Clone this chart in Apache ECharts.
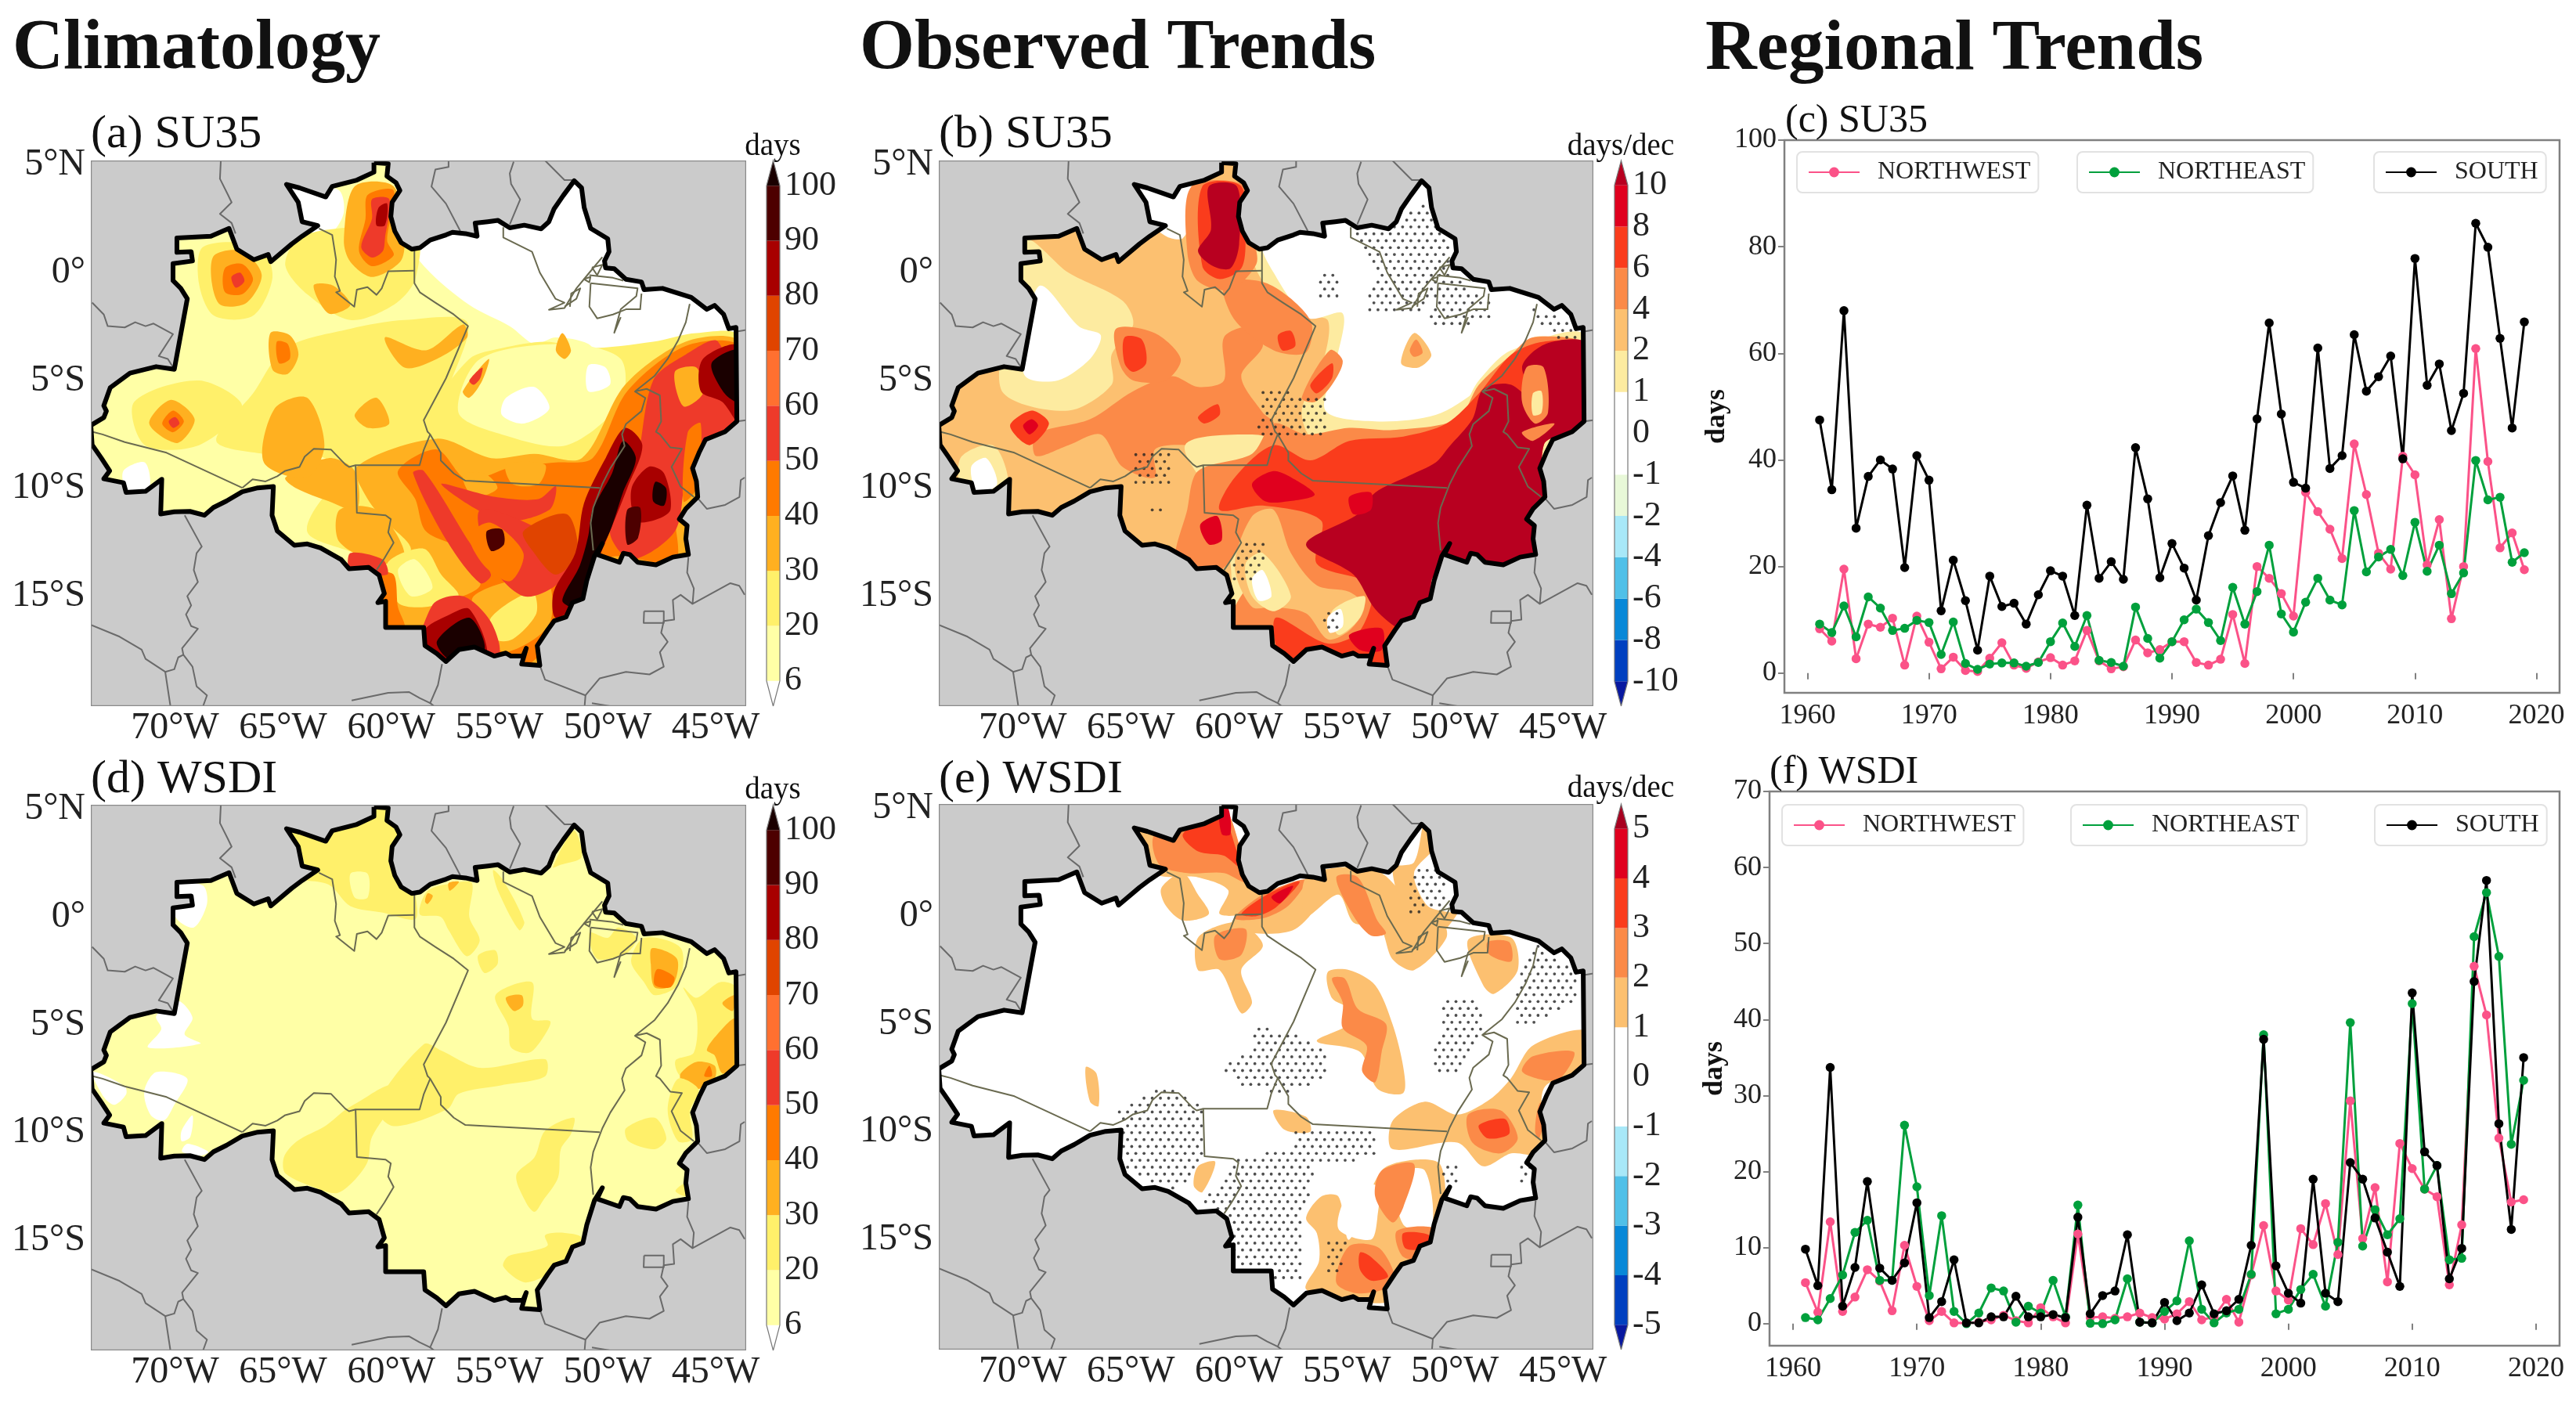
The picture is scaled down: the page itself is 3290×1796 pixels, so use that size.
<!DOCTYPE html>
<html><head><meta charset="utf-8">
<style>html,body{margin:0;padding:0;background:#fff}#c{width:3290px;height:1796px}</style>
<script src="https://cdn.jsdelivr.net/npm/echarts@6/dist/echarts.min.js"></script>
</head><body><div id="c"></div>
<script>
const years=[1961,1962,1963,1964,1965,1966,1967,1968,1969,1970,1971,1972,1973,1974,1975,1976,1977,1978,1979,1980,1981,1982,1983,1984,1985,1986,1987,1988,1989,1990,1991,1992,1993,1994,1995,1996,1997,1998,1999,2000,2001,2002,2003,2004,2005,2006,2007,2008,2009,2010,2011,2012,2013,2014,2015,2016,2017,2018,2019];
const su35South=[47.5,34.4,68,27.2,36.9,40,38.3,19.8,40.8,36.2,11.7,21.2,13.6,4.3,18.2,12.5,13.1,9.2,14.7,19.2,18.2,10.8,31.5,17.8,20.9,17.6,42.3,32.7,17.9,24.3,19.7,13.7,25.8,32,37,26.8,47.7,65.7,48.6,35.8,34.7,61,38.4,40.8,63.5,52.9,55.6,59.5,40.2,77.8,54,58,45.5,52.5,84.4,79.9,62.8,46,65.9];
const su35NE=[9.2,7.6,12.6,6.8,14.3,12.2,8,8.4,9.9,9.5,3.5,9.6,1.8,0.7,1.7,1.9,1.9,1.3,2,5.9,9.4,5,10.8,2.4,2,1.3,12.4,6.5,2.8,5.9,10,12,9.5,6.1,16.1,9.2,15.3,24,11.1,7.7,13.3,17.8,13.7,12.8,30.5,19,21.8,23.2,18.3,28.3,19.1,24,14.9,18.8,39.9,32.5,33,20.8,22.6];
const su35NW=[8.3,6,19.5,2.7,9.2,8.6,10.3,1.5,10.7,5.8,0.8,3,0.5,0.3,2.8,5.7,1.5,0.9,2.1,2.9,1.5,2.3,8,2.3,0.8,1.2,6.2,3.8,4.4,5.9,5.9,2,1.5,2.6,11,1.8,20,17.8,14.9,10.7,33.9,30.3,27,21.5,43,33.5,22.5,19.5,40.7,37.2,20.3,28.8,10.2,20,60.9,39.7,23.5,26.3,19.4];
const wsdiSouth=[9.8,5,33.7,2.3,7.4,18.7,7.3,5.7,8,15.9,0.8,2.9,8.4,0.1,0.1,0.9,0.9,3.6,0.9,0.9,1.2,0.8,14,1.3,3.7,4.3,11.7,0.2,0.1,2.8,0.4,1.4,5.1,1.3,1.7,3.2,10.3,37.4,7.6,4,2.7,19,4,2.9,21.2,19,13.9,9.4,4.9,43.5,22.6,20.8,5.9,9.9,45,58.3,26.3,12.4,35];
const wsdiNE=[0.8,0.5,3.3,6.4,12,13.6,5.7,5.7,26.1,18,3.7,14.2,1.6,0,1.4,4.7,4.3,0.2,2.3,1.4,5.7,0.9,15.6,0.05,0,0.5,5.9,0.2,0.1,1.6,3,10.9,1.9,0.1,1.4,1.9,6.5,38,1.3,1.9,4.5,6.5,2.3,10.7,39.6,10.2,15,11.7,13.8,42.1,17.7,20.8,8.4,8.6,50.9,56.7,48.3,23.6,32];
const wsdiNW=[5.4,1.5,13.4,1.6,3.5,7.1,5.6,1.7,10.3,4.9,0.4,1.6,0.1,0.05,0.2,0.5,1.1,0.4,0.1,2.1,0.9,0.1,11.8,0.8,0.9,0.7,0.9,1.4,0.8,0.6,1.3,2.9,0.5,0.9,3.2,0.2,6.4,12.9,4.3,3.1,12.5,10.4,15.8,9.1,29.3,11.2,17.9,5.5,23.7,20.4,17.7,16.7,5.1,13,47,40.6,24.4,16,16.3];

const lonTicks=[-70,-65,-60,-55,-50,-45];
const latTicks=[5,0,-5,-10,-15];
const climTicks=['6','20','30','40','50','60','70','80','90','100'];
const su35TrendTicks=['-10','-8','-6','-4','-2','-1','0','1','2','4','6','8','10'];
const wsdiTrendTicks=['-5','-4','-3','-2','-1','0','1','2','3','4','5'];
const climColors=['#ffffff','#ffffa6','#fff06a','#ffb020','#ff7a00','#ee3a2a','#ff7030','#e04400','#a80000','#4d0000','#1a0000'];
const su35TrendColors=['#0818a0','#0040c0','#0888d8','#50c0e8','#a8e8f8','#e8f8d8','#ffffff','#ffffff','#fdeba0','#fcc070','#fb8a48','#fa3c1c','#e0001e','#b80020'];
const wsdiTrendColors=['#0818a0','#0040c0','#0888d8','#50c0e8','#a8e8f8','#ffffff','#ffffff','#fcc070','#fb8a48','#fa3c1c','#e0001e','#a80020'];

const outline=[[-60.91,5.1],[-60.25,5.05],[-60.31,4.47],[-59.89,4.17],[-59.71,3.81],[-60.07,3.26],[-60.13,2.6],[-59.95,1.93],[-59.65,1.39],[-59.16,1.09],[-58.79,1.15],[-58.31,1.51],[-57.58,1.75],[-57.28,1.87],[-56.68,1.81],[-56.14,1.69],[-56.23,2.3],[-55.65,2.36],[-55.17,2.42],[-54.63,2.08],[-53.96,2.2],[-53.18,2.03],[-52.82,2.36],[-52.58,2.96],[-52.16,3.57],[-51.65,4.26],[-51.31,3.93],[-51.19,3.02],[-50.89,2.05],[-50.59,1.87],[-50.1,1.57],[-50.04,0.97],[-50.25,0.54],[-50.2,0.22],[-49.8,0.18],[-49.26,-0.31],[-48.54,-0.43],[-48.42,-0.79],[-47.57,-0.73],[-46.24,-1.15],[-45.52,-1.7],[-45.16,-1.52],[-44.74,-1.94],[-44.5,-2.6],[-44.17,-2.54],[-44.13,-6.9],[-44.68,-7.38],[-45.58,-7.74],[-45.88,-8.35],[-46.18,-9.07],[-46,-9.68],[-45.94,-10.4],[-46.49,-10.95],[-46.79,-11.43],[-46.43,-11.73],[-46.49,-12.34],[-46.37,-13.07],[-47.09,-13.19],[-47.87,-13.55],[-48.72,-13.43],[-49.08,-13.07],[-49.38,-13.01],[-49.56,-13.43],[-50.59,-13.07],[-50.35,-12.56],[-50.71,-13.13],[-51.07,-14.28],[-51.25,-15.12],[-51.73,-15.3],[-52.03,-15.97],[-52.58,-16.15],[-52.88,-16.57],[-53.36,-17.3],[-53.24,-18.21],[-54.08,-18.15],[-53.87,-17.42],[-54.02,-17.78],[-54.57,-17.78],[-54.81,-17.64],[-55.35,-17.78],[-56.26,-17.36],[-56.98,-17.48],[-57.58,-18.03],[-58.01,-17.66],[-58.55,-17.3],[-58.61,-16.45],[-60.37,-16.45],[-60.37,-15.24],[-60.73,-15.3],[-60.43,-14.88],[-60.67,-14.03],[-61.15,-13.67],[-62.06,-13.73],[-62.42,-13.31],[-63.38,-12.76],[-63.99,-12.58],[-64.59,-12.64],[-65.38,-11.98],[-65.62,-11.25],[-65.56,-9.92],[-66.28,-9.98],[-67,-10.16],[-67.73,-10.59],[-68.33,-10.89],[-68.75,-11.25],[-69.42,-11.07],[-70.14,-11.09],[-70.77,-11.19],[-70.72,-9.58],[-71.47,-10.14],[-72.37,-10.19],[-72.49,-9.74],[-73.4,-9.56],[-73.13,-9.19],[-73.52,-8.59],[-73.94,-7.98],[-74,-7.08],[-73.4,-6.72],[-73.28,-6.42],[-73.4,-6.17],[-73.1,-5.33],[-72.19,-4.66],[-70.98,-4.36],[-70.14,-4.48],[-69.54,-1.21],[-69.84,-0.73],[-70.2,-0.37],[-70.2,0.42],[-69.3,0.54],[-69.36,0.97],[-70.02,0.94],[-70.02,1.61],[-68.45,1.69],[-67.61,2.05],[-67.25,1.09],[-66.46,0.6],[-65.8,0.84],[-65.68,0.51],[-64.71,1.33],[-64.23,1.69],[-63.51,2.18],[-64.23,2.36],[-64.41,3.26],[-64.95,4.09],[-64.35,3.93],[-63.14,3.51],[-62.84,4],[-61.7,4.29],[-60.91,4.66]];

const stateLines=[
[[-63.45,2.05],[-62.84,1.75],[-62.66,0.6],[-62.72,-0.18],[-62.48,-0.85],[-62.66,-0.91],[-61.82,-1.58],[-61.7,-0.79],[-61.21,-0.67],[-60.79,-1.03],[-60.55,-0.73],[-60.25,0.06],[-59.04,0.09]],
[[-59.04,1.03],[-59.04,-0.49],[-58.79,-0.91],[-58.07,-1.39],[-57.22,-1.94],[-56.56,-2.48],[-57.58,-4.9],[-58.61,-6.84],[-58.43,-7.38],[-58.31,-7.5],[-57.82,-8.35],[-57.82,-8.71],[-57.22,-9.31],[-56.68,-9.65],[-50.47,-9.98]],
[[-73.94,-7.38],[-73.46,-7.5],[-72.43,-7.86],[-70.5,-8.35],[-67,-9.98]],
[[-67,-9.98],[-66.52,-9.58],[-65.92,-9.68],[-65.38,-9.44],[-65.01,-9.19],[-64.35,-9.01],[-64.11,-8.53],[-63.69,-8.17],[-62.9,-8.2],[-62.24,-8.89],[-62.06,-9.01],[-61.76,-8.93],[-58.8,-8.93],[-58.61,-8.23],[-58.31,-7.5]],
[[-61.76,-8.93],[-61.7,-11.13],[-60.37,-11.25],[-60.13,-11.43],[-60.25,-12.04],[-60,-12.52],[-60.43,-13.25],[-60.79,-13.79]],
[[-54.93,2.11],[-54.93,1.63],[-53.6,0.97],[-53.24,0],[-52.52,-1.21],[-52.1,-1.39],[-52.82,-1.72],[-52.1,-1.64],[-51.55,-0.73],[-50.95,0],[-50.35,0.72]],
[[-51.85,-1.58],[-51.79,-0.97],[-51.37,-0.73],[-51.55,-1.21],[-52.1,-1.58]],
[[-50.83,0.24],[-50.35,0.36],[-50.59,-0.12],[-50.83,0.24]],
[[-51.2,-0.3],[-50.9,-0.2],[-50.95,-0.45],[-51.2,-0.3]],
[[-50.95,-0.12],[-49.86,-0.24],[-49.38,-0.37]],
[[-50.89,-0.49],[-50.95,-1.58],[-50.59,-2.12],[-49.86,-1.94],[-49.26,-1.7],[-48.6,-1.7],[-48.54,-0.97]],
[[-50.89,-0.49],[-48.72,-0.73],[-48.78,-1.09],[-49.5,-1.7],[-49.8,-2.79],[-49.5,-2.06]],
[[-46.31,-1.45],[-46.49,-2.3],[-46.85,-3.15],[-47.33,-4],[-47.93,-4.78],[-48.84,-5.51],[-48.3,-5.39],[-47.69,-5.69],[-47.63,-6.9],[-47.87,-7.38],[-47.69,-7.5],[-47.21,-8.1],[-46.67,-8.17],[-47.15,-9.01],[-46.73,-9.92],[-46.12,-10.4]],
[[-48.84,-5.51],[-48.36,-5.81],[-48.54,-6.42],[-49.26,-7.02],[-49.44,-7.5],[-49.32,-8.04],[-49.98,-9.07],[-50.35,-9.8],[-50.77,-10.89],[-50.89,-11.61],[-50.77,-12.88]]
];
const borderLines=[
[[-67.99,5.2],[-68.03,4.35],[-67.67,3.63],[-67.49,3.26],[-68.03,2.72],[-67.49,2.3],[-67.31,1.81]],
[[-73.94,-1.39],[-73.4,-1.94],[-73.22,-2.48],[-72.43,-2.54],[-71.95,-2.3],[-71.47,-2.48],[-71.1,-2.36],[-70.2,-2.85],[-70.86,-3.87],[-70.44,-4],[-70.14,-4.48]],
[[-57.46,5.2],[-57.46,4.9],[-58.07,4.78],[-58.25,3.99],[-57.58,3.2],[-56.92,1.93]],
[[-54.45,5.14],[-54.63,4.6],[-54.57,4.11],[-54.15,3.39],[-54.63,2.24]],
[[-53,5.2],[-52.1,4.29],[-51.67,4.29]],
[[-69.66,-11.25],[-68.87,-12.7],[-69.11,-13.01],[-69.24,-13.79],[-69.05,-14.34],[-69.54,-15],[-69.36,-15.43],[-69.6,-15.85],[-69.36,-16.39],[-69.05,-16.51],[-69.78,-17.42],[-69.72,-17.72],[-69.3,-18.27],[-69.11,-19.18],[-68.63,-19.6],[-68.81,-20.1]],
[[-74,-16.33],[-72.67,-16.88],[-71.65,-17.48],[-71.47,-17.91],[-70.56,-18.51],[-70.14,-18.39],[-69.96,-17.84],[-69.72,-17.72]],
[[-70.56,-18.51],[-70.32,-20.1]],
[[-57.76,-18.15],[-57.95,-19.12],[-58.31,-19.96],[-58.13,-20.1]],
[[-61.94,-19.84],[-60.25,-19.48],[-59.28,-19.45],[-58.8,-19.72],[-58.31,-19.96]],
[[-53.24,-18.21],[-53,-18.87],[-51.13,-19.6],[-51.17,-20.1]],
[[-51.13,-19.6],[-50.47,-18.81],[-49.26,-18.51],[-48.17,-18.63],[-47.51,-18.27],[-47.69,-17.6],[-47.33,-17.12],[-47.63,-16.7],[-47.51,-16.15],[-47.03,-16.09],[-47.09,-15.18],[-46.73,-14.94],[-46.18,-15.36]],
[[-48.42,-15.7],[-47.51,-15.7],[-47.51,-16.24],[-48.44,-16.24],[-48.42,-15.7]],
[[-46.37,-13.19],[-46.43,-13.91],[-46.12,-14.64],[-46.18,-15.36],[-44.43,-14.4],[-44.02,-14.52],[-43.77,-14.94]],
[[-50.83,-19.96],[-50,-20.1]],
[[-45.94,-10.46],[-45.52,-10.95],[-44.67,-10.77],[-44.01,-10.4],[-43.95,-9.62],[-43.77,-9.5]],
[[-44.13,-6.9],[-43.7,-6.84]],
[[-44.13,-2.73],[-43.7,-2.66]]
];

// contour rings: [colour level, ring of [lon, lat]], painted in order
const su35ClimRings=[
[0,[[-59.2,1.5],[-56,3],[-52,5],[-49,2],[-44,-2],[-44,-3.3],[-45.8,-3],[-47.5,-3.3],[-49,-3.5],[-50.2,-4.2],[-51,-3.3],[-52.5,-3],[-53.5,-3.3],[-54.6,-2.5],[-56.5,-1.5],[-58.5,0.2]]],
[0,[[-65,4.5],[-63.5,4],[-62.5,3.8],[-62.3,2.8],[-62.8,1.9],[-63.5,1.7],[-65,3]]],
[2,[[-65,-3.5],[-62,-2.6],[-59.5,-2.2],[-56.6,-2.3],[-57.5,-5.5],[-58,-7.5],[-57.8,-9],[-61.5,-9.3],[-63.5,-8.5],[-66,-8.4],[-68.2,-7.8],[-66.5,-5.6]]],
[2,[[-64.5,1.5],[-63,2],[-59,2],[-59,-0.3],[-60,-1.5],[-62,-2.2],[-64,-1],[-65,0.3]]],
[2,[[-72,-6],[-69,-5],[-67,-6.2],[-69,-8],[-71.5,-8]]],
[2,[[-68.8,1.2],[-66.2,1.2],[-65.6,-0.2],[-66.5,-2],[-68.3,-2],[-69,-0.5]]],
[2,[[-58.2,-6.5],[-56.5,-4],[-55,-3.5],[-53,-3.2],[-51,-3.5],[-48,-3.2],[-46,-2.8],[-44,-3],[-44,-14],[-50,-14],[-54,-19],[-60,-17],[-61,-13.5],[-64,-12],[-62,-9.3],[-58,-9]]],
[1,[[-56,-4],[-52,-3.3],[-49.5,-4],[-49.5,-6],[-52,-8],[-55,-7.5],[-57,-6.5]]],
[0,[[-54.8,-5.8],[-53.5,-5.3],[-52.8,-6.3],[-54,-7],[-55,-6.6]]],
[0,[[-51,-4.3],[-50.2,-4.4],[-50,-5.2],[-51,-5.5]]],
[0,[[-72.5,-9.2],[-71.5,-8.8],[-71.3,-10],[-72.3,-10.2]]],
[3,[[-61.7,-9],[-58,-7.7],[-55.5,-8.6],[-53.5,-8.4],[-51.3,-8.6],[-49.3,-5.2],[-46.5,-3.2],[-44,-3.2],[-44,-7],[-46,-8.6],[-45.8,-14],[-51,-14],[-54,-19],[-58.5,-18.5],[-60.5,-16.5],[-60,-13.8],[-59.2,-12.8],[-60.3,-11.6],[-61.2,-10.5]]],
[3,[[-65,-9.5],[-63,-8.6],[-61.8,-9.2],[-61.7,-11],[-63,-10.6],[-64.5,-10]]],
[3,[[-62.5,-11],[-60.8,-11],[-59.5,-13],[-60.5,-13.5],[-62.5,-12.5]]],
[3,[[-60.4,-3],[-58.5,-3.6],[-56.8,-2.4],[-56.6,-3],[-58,-4],[-59.5,-4.4]]],
[3,[[-61.8,-6.6],[-60.8,-5.8],[-60.2,-7],[-61.2,-7.2]]],
[3,[[-65.5,-6.3],[-64,-5.8],[-63.2,-8],[-64,-9.5],[-66,-8.8]]],
[3,[[-63.7,-0.6],[-62.8,-0.6],[-62,-1.5],[-63,-1.9]]],
[4,[[-59.8,-9.2],[-58,-8.2],[-56.6,-9.6],[-54.5,-9],[-52.5,-8.8],[-50.8,-8.6],[-49.2,-5.5],[-46.5,-3.4],[-44,-3.4],[-44,-6.6],[-46.3,-7.6],[-46.5,-9.4],[-47,-11],[-47,-13.4],[-50,-13.2],[-51.5,-15],[-54,-18.3],[-58.5,-17.5],[-57,-16],[-57.5,-15.4],[-56,-14.5],[-56.5,-13],[-58.5,-12],[-59,-10.5]]],
[2,[[-60.3,-13.5],[-58.6,-12.8],[-57.8,-14],[-57,-15],[-58.5,-15.5],[-59.8,-15.3]]],
[1,[[-59.8,-13.8],[-59,-13.3],[-58.2,-14.6],[-59.2,-15]]],
[3,[[-56.3,-15],[-53,-14.2],[-52.8,-16.3],[-54.8,-17.6],[-55.8,-16.8]]],
[2,[[-55.5,-16],[-53.6,-14.8],[-53.4,-15.8],[-54.5,-17],[-55.3,-17]]],
[3,[[-56.8,-9.4],[-55.8,-9.3],[-55.2,-10],[-56.3,-10.4]]],
[3,[[-54.8,-8.9],[-53,-8.9],[-53.3,-9.8],[-54.5,-9.8]]],
[5,[[-59.1,-9.3],[-58.6,-9.2],[-56.5,-12.5],[-55.5,-14],[-56,-14.4],[-57.5,-12.5]]],
[5,[[-57.8,-9.8],[-55.3,-10.4],[-53.3,-10.5],[-52.5,-9.9],[-52.8,-11],[-55,-11.5]]],
[5,[[-56,-11],[-53,-12],[-51.5,-13],[-52.5,-14.5],[-54,-15],[-55.5,-13.5]]],
[4,[[-56.5,-12.2],[-55.5,-11.6],[-54,-13],[-54.6,-14.3],[-55.8,-13.6]]],
[7,[[-54,-12],[-52,-11.2],[-51.5,-13],[-52.5,-14],[-53.5,-13]]],
[5,[[-48,-5],[-46.5,-3.8],[-45,-3.2],[-44,-7],[-46,-8.4],[-46.5,-9.5],[-47,-12],[-49,-13.3],[-50,-12],[-48.8,-9]]],
[3,[[-47,-4.6],[-46,-4.4],[-45.7,-5.6],[-46.6,-6.2]]],
[4,[[-46.4,-7.4],[-45.8,-7],[-46,-10],[-46.6,-10.6]]],
[8,[[-51.2,-10.7],[-50.2,-8.6],[-49.3,-7.2],[-48.5,-8],[-49.2,-10],[-50,-12],[-50.6,-13.5],[-51,-15],[-52.5,-16],[-52.6,-14.8],[-51.6,-13]]],
[10,[[-50.8,-11],[-49.9,-9.3],[-49.4,-7.8],[-48.8,-8.6],[-49.4,-10.2],[-50,-12],[-50.8,-13.6],[-51.6,-15.5],[-52.2,-15.2],[-51.4,-13.6],[-51,-12.2]]],
[8,[[-45.7,-4],[-44,-3.4],[-44,-7],[-44.8,-6],[-45.8,-5.5]]],
[10,[[-45.3,-4.2],[-44,-3.6],[-44,-6],[-44.7,-5.6]]],
[8,[[-48.2,-9],[-47.5,-9.3],[-47.2,-11],[-48,-11.5],[-48.8,-11.5],[-49,-10]]],
[10,[[-47.9,-9.7],[-47.4,-10],[-47.5,-10.8],[-48,-10.6]]],
[9,[[-49.2,-11],[-48.6,-10.9],[-48.7,-12.3],[-49.2,-12.6]]],
[5,[[-58.2,-15.4],[-56.8,-15],[-55.5,-16.2],[-55.2,-17.8],[-58.8,-18.2]]],
[8,[[-58.6,-16.6],[-57.5,-15.9],[-56.5,-15.6],[-55.7,-17.8],[-57.5,-18.2],[-58.6,-17.8]]],
[10,[[-58,-17.1],[-56.5,-16],[-55.8,-17.5],[-57.3,-18]]],
[4,[[-60.8,-14],[-60,-14],[-59.8,-15.5],[-59.5,-16.5],[-60.6,-16.6]]],
[5,[[-62,-13],[-60.5,-13.3],[-60.3,-14],[-62,-13.8]]],
[9,[[-55.7,-12],[-55,-11.9],[-54.9,-12.6],[-55.5,-12.9]]],
[3,[[-61.8,4],[-60,4],[-59.5,1.5],[-59.7,0.5],[-61,-0.2],[-62,0.5],[-62.3,1.5]]],
[4,[[-61.2,3.6],[-60,3.8],[-60.3,1.5],[-60,0.8],[-61,0.3],[-61.6,1],[-61.3,2.5]]],
[5,[[-61,3.4],[-60.2,3.4],[-60.4,1.6],[-60.5,1],[-61,0.7],[-61.5,1.2],[-61,2.5]]],
[8,[[-60.7,3],[-60.3,3.2],[-60.4,2.2],[-60.8,2.2]]],
[3,[[-68.3,0.8],[-67,1],[-66.1,-0.1],[-66.8,-1.4],[-68,-1.5],[-68.4,-0.5]]],
[4,[[-67.8,0.2],[-67,0.4],[-66.5,-0.3],[-67,-1],[-67.8,-0.9]]],
[5,[[-67.5,-0.2],[-67.1,0],[-66.9,-0.4],[-67.3,-0.7]]],
[3,[[-65.7,-2.8],[-64.8,-2.9],[-64.4,-3.8],[-64.9,-4.7],[-65.6,-4.5]]],
[4,[[-65.4,-3.2],[-64.9,-3.3],[-64.8,-4],[-65.3,-4.2]]],
[3,[[-71.3,-7],[-70.3,-5.9],[-69.2,-6.8],[-70,-7.9]]],
[4,[[-70.7,-7],[-70.2,-6.4],[-69.7,-6.9],[-70.2,-7.4]]],
[5,[[-70.4,-6.9],[-70.1,-6.7],[-69.9,-7],[-70.2,-7.2]]],
[3,[[-52.5,-3.6],[-52.2,-2.8],[-51.8,-3.6],[-52.1,-4]]],
[3,[[-56.8,-5.5],[-55.6,-4],[-55.9,-5],[-56.5,-5.8]]],
[5,[[-56.5,-5],[-55.9,-4.4],[-56,-4.9],[-56.3,-5.2]]]
];
const su35TrendRings=[
[1,[[-70,1.5],[-68,0],[-65.5,-1.3],[-65,-2.4],[-66,-3.8],[-66,-5.2],[-68,-6.4],[-71,-5.6],[-71,-3]]],
[0,[[-69.3,-0.6],[-67.5,-2.5],[-66.5,-2.9],[-67,-4],[-68.5,-5],[-70,-4.8],[-70,-3]]],
[1,[[-73,-8.6],[-71.5,-8],[-70.8,-9.5],[-71.2,-10.6],[-72.8,-10.5]]],
[0,[[-72.5,-9],[-71.8,-8.6],[-71.3,-9.8],[-72.2,-10.2]]],
[0,[[-65,4.5],[-62.5,4.3],[-62.2,2.8],[-62.7,1.6],[-63.5,1.7],[-65,3]]],
[1,[[-59.4,1],[-56,3],[-52,5],[-49,2],[-44,-2],[-44,-3],[-46.3,-2.7],[-47.3,-3.6],[-48.7,-5.2],[-49.5,-7],[-51,-7.4],[-53.8,-7.8],[-56.6,-7.8],[-57.2,-6.4],[-56.2,-4.1],[-56,-2.2],[-57.3,-2],[-59,-0.4]]],
[0,[[-59,1.5],[-56,3],[-52,5],[-49,2],[-44,-2],[-44,-3],[-46.5,-3],[-47.5,-3.9],[-49,-5.4],[-51,-6.6],[-53.8,-6.9],[-56.1,-6.4],[-55.6,-4.1],[-55.3,-1.9],[-56.9,-2.1],[-58.5,0]]],
[3,[[-69.5,-7.5],[-67,-6.8],[-65,-5.5],[-63.2,-4.8],[-62,-5.3],[-60.8,-5],[-60.8,-3],[-59.5,-2.5],[-59,-3.4],[-60,-4.8],[-59,-6.5],[-58.5,-7],[-60,-8.5],[-62.5,-8],[-64,-8.2],[-64,-9.5],[-65.5,-9],[-66.5,-7.5],[-68,-8],[-69.5,-8.5]]],
[3,[[-60.8,-0.5],[-58.8,-0.5],[-56.8,-2.2],[-57,-3.7],[-58.5,-3.6],[-60.3,-2.2]]],
[3,[[-65.8,-2.6],[-64,-2.8],[-62.8,-4],[-63.5,-5],[-65,-5],[-65.6,-4.3]]],
[4,[[-65.4,-3],[-64.6,-3.1],[-64.4,-4.2],[-65,-4.6],[-65.4,-4.2]]],
[4,[[-70.7,-7.1],[-69.7,-6.4],[-68.9,-7],[-69.8,-8]]],
[5,[[-70.1,-7.1],[-69.7,-6.8],[-69.4,-7.1],[-69.8,-7.5]]],
[4,[[-62,-6.7],[-61.1,-6.1],[-61,-6.6],[-61.7,-7]]],
[4,[[-58.3,-2.9],[-57.7,-2.7],[-57.5,-3.4],[-58.1,-3.6]]],
[3,[[-57.2,-5.8],[-55.9,-3.6],[-55.3,-4.1],[-55.8,-5.2],[-56.6,-6]]],
[4,[[-56.8,-5.2],[-55.8,-4.2],[-55.8,-4.9],[-56.5,-5.6]]],
[2,[[-52.6,-4.2],[-52,-2.8],[-51.2,-3.8],[-51.8,-4.4]]],
[3,[[-52.2,-3.6],[-51.9,-3.1],[-51.6,-3.7],[-52,-3.9]]],
[3,[[-62.3,4],[-59.8,4],[-59.4,1.5],[-59.3,0.4],[-60.5,-0.8],[-62,-0.4],[-62.5,1]]],
[4,[[-61.8,4],[-60,4],[-59.8,1.5],[-60,0.2],[-61,-0.3],[-61.8,0.3]]],
[6,[[-61.5,4],[-60.2,4],[-60.1,1.3],[-60.5,0.2],[-61.3,0.3],[-62,1],[-61.4,2]]],
[1,[[-62.6,-8],[-59.5,-7.5],[-57,-8],[-55.5,-7.5],[-53,-7],[-50,-6.5],[-49,-5],[-47.5,-3.6],[-44,-3],[-44,-14],[-52,-19],[-60,-17],[-60.5,-13.5],[-61,-11]]],
[3,[[-62,-9.2],[-59.5,-8.4],[-58.5,-7],[-57,-7.5],[-55,-7.2],[-53,-7.3],[-50,-6.8],[-49,-5.2],[-47.5,-3.8],[-46.5,-3],[-44,-3.4],[-44,-7],[-46,-8],[-46,-14],[-51,-14],[-53,-19],[-58.5,-18.5],[-60.5,-16.5],[-59.8,-14.7],[-58.5,-14],[-58,-12.4],[-59.5,-11.5],[-60,-12.5],[-61,-13.8],[-63,-13.5],[-62.5,-11]]],
[2,[[-60.3,-13.6],[-59.5,-11.3],[-58.5,-11],[-57.7,-13],[-56.5,-14.5],[-55,-14.8],[-54.3,-15.5],[-55,-16.6],[-56,-17],[-57,-15.8],[-58.5,-15.5],[-59.5,-15.5]]],
[1,[[-59.8,-13.5],[-59,-13],[-57.7,-15],[-58.5,-15.7],[-59.5,-15]]],
[0,[[-59.5,-14.2],[-59,-13.8],[-58.6,-15],[-59.2,-15.2]]],
[1,[[-55.8,-15.7],[-54.3,-15],[-54.5,-16],[-55.5,-16.8]]],
[0,[[-56,-16],[-55.4,-15.6],[-55.3,-16.4],[-55.9,-16.7]]],
[4,[[-60.3,-9.5],[-58.5,-8],[-56.8,-8.7],[-55,-7.8],[-52.5,-7.6],[-50.5,-7],[-49,-5.6],[-47.5,-3.8],[-46,-3.2],[-44,-3.4],[-44,-7],[-46,-8],[-46,-14],[-51,-14],[-52,-16],[-53.5,-18.5],[-58,-18],[-58.4,-16],[-56,-17.2],[-54.5,-16.6],[-54,-14.5],[-56.5,-13.5],[-56.3,-11.5],[-59,-10.8],[-61,-11]]],
[6,[[-57,-12.6],[-54.6,-11.2],[-53.8,-10.2],[-52.2,-9.4],[-51,-8.8],[-50.4,-8.1],[-49.3,-6.8],[-48.8,-5.4],[-47.5,-5.2],[-46,-6.5],[-47,-4.4],[-45.9,-3.3],[-44,-3.3],[-44,-7],[-46,-8],[-46,-14],[-51,-14],[-51.2,-16.5],[-52.5,-16.6],[-53.8,-15.6],[-54.8,-14]]],
[3,[[-46.8,-4.4],[-46,-4.4],[-45.8,-6.5],[-46.4,-7],[-47,-6]]],
[1,[[-46.5,-5.6],[-46.1,-5.5],[-46.1,-6.5],[-46.5,-6.6]]],
[3,[[-47,-7.4],[-45.5,-7],[-46.5,-7.8]]],
[5,[[-59.5,-9.8],[-58.5,-9.2],[-57.5,-9.6],[-56.6,-10.3],[-57.8,-10.6],[-58.9,-10.6]]],
[5,[[-61.9,-11.7],[-61.1,-11.3],[-60.9,-12.4],[-61.5,-12.6]]],
[5,[[-55,-16.8],[-53.5,-16.5],[-53.5,-17.5],[-54.5,-17.5]]],
[5,[[-55,-10.4],[-54,-10.2],[-54,-11],[-54.8,-11.2]]]
];
const wsdiClimRings=[
[0,[[-70.02,1.51],[-68.81,1.45],[-68.63,0.6],[-69.24,-0.49],[-70.08,0]]],
[0,[[-70.98,-4.6],[-70.02,-3.87],[-69.3,-4.66],[-69.66,-5.45],[-68.93,-5.87],[-71.35,-6.05],[-70.74,-5.2]]],
[0,[[-73.9,-7.2],[-72.43,-7.86],[-72.37,-8.23],[-72.91,-8.71],[-73.4,-8.35]]],
[0,[[-71.53,-8.1],[-70.98,-7.2],[-69.54,-7.5],[-70.14,-8.71],[-70.62,-9.44],[-71.23,-9.19]]],
[0,[[-69.54,-10.52],[-68.57,-10.89],[-68.93,-11.07],[-69.78,-10.89]]],
[0,[[-69.8,-9.9],[-69.3,-9.2],[-69.4,-10.2],[-69.8,-10.4]]],
[2,[[-65,4.5],[-60,5],[-59,1],[-59,-0.1],[-60.5,0.2],[-62,0.5],[-63,1.5],[-65,2]]],
[1,[[-62,2],[-61.2,2],[-61.2,0.9],[-61.8,0.9]]],
[2,[[-58.79,0.12],[-58.43,1.21],[-57.22,1.57],[-56.38,1.57],[-56.5,0],[-56.02,-1.09],[-56.62,-1.82],[-57.46,-0.61],[-57.82,0]]],
[3,[[-58.43,1.09],[-58.19,0.97],[-58.43,0.6],[-58.55,0.72]]],
[3,[[-57.46,1.57],[-56.98,1.63],[-57.4,1.21]]],
[2,[[-55.4,2.17],[-54.93,1.69],[-53.96,-0.24],[-54.2,-0.61],[-55.17,1.21]]],
[2,[[-56.1,-1.8],[-55.3,-1.55],[-55.2,-2.2],[-55.8,-2.6]]],
[2,[[-52.64,2.3],[-51.67,4],[-51.31,2.78],[-52.27,2.42]]],
[2,[[-50.95,-0.73],[-50.1,-0.97],[-49.62,-0.49],[-48.78,-0.97],[-49.26,-1.7],[-50.59,-1.94]]],
[2,[[-48.42,-0.97],[-46.72,-1.45],[-46.85,-3.15],[-47.93,-3.63],[-48.42,-3.03],[-49.02,-2.06]]],
[3,[[-48.05,-1.45],[-46.9,-1.94],[-47.09,-3.15],[-47.93,-3.27],[-48.11,-2.18]]],
[4,[[-47.81,-2.42],[-47.03,-2.79],[-47.21,-3.27],[-47.93,-3.15]]],
[2,[[-46.61,-3.27],[-46,-3.75],[-44.92,-3.03],[-44.2,-3.27],[-44.13,-6.9],[-45.52,-7.5],[-46.73,-7.38],[-46.97,-6.66],[-46.12,-6.29],[-46,-4.48]]],
[3,[[-44.2,-3.63],[-44.8,-4],[-44.32,-4.36]]],
[3,[[-45.52,-6.17],[-45.04,-5.45],[-44.2,-4.72],[-44.13,-6.9],[-44.8,-7.26],[-45.16,-6.42]]],
[3,[[-46.73,-7.26],[-46,-6.72],[-45.16,-6.9],[-45.16,-7.5],[-46,-8],[-46.67,-7.7]]],
[4,[[-45.64,-7.38],[-45.4,-6.9],[-45.28,-7.38]]],
[2,[[-55.29,-3.63],[-53.6,-3.03],[-53.6,-4.72],[-52.76,-4.84],[-53,-5.45],[-53.72,-6.29],[-54.57,-6.05],[-54.69,-5.08]]],
[3,[[-54.81,-3.75],[-54.08,-3.63],[-54.03,-4.12],[-54.45,-4.36]]],
[2,[[-60.8,-8.8],[-58.6,-5.9],[-57.8,-6.2],[-56,-7],[-53,-6.6],[-53,-7.4],[-55,-7.8],[-57,-8.2],[-57.5,-8.9],[-60,-9.7]]],
[2,[[-65.07,-11.13],[-64.47,-10.4],[-63.14,-9.68],[-62.24,-8.95],[-61.5,-8.5],[-60.5,-7.9],[-59.5,-7.6],[-58.8,-7.5],[-58.8,-8.2],[-59.9,-8.7],[-61,-10.2],[-61.21,-11.37],[-61.9,-12.3],[-62.6,-12.8],[-63.5,-12.6],[-65,-11.9]]],
[2,[[-53,-9.92],[-51.67,-9.31],[-51.79,-10.04],[-52.27,-10.77],[-52.4,-12.1],[-53.12,-13.19],[-53.48,-13.67],[-53.84,-13.31],[-54.33,-11.98],[-53.48,-11.13]]],
[2,[[-49.26,-9.8],[-47.93,-9.31],[-47.39,-10.28],[-47.93,-10.77],[-49.14,-10.4]]],
[2,[[-53,-14.76],[-52.27,-14.64],[-51.31,-14.88],[-52.09,-15.85],[-52.88,-16.57],[-53.96,-16.94],[-54.93,-16.21],[-54.69,-15.73],[-53.6,-15.49],[-52.88,-15.24]]],
[2,[[-46.97,-12.7],[-46.49,-12.34],[-46.49,-12.94]]],
[2,[[-47.33,-8.95],[-46.85,-7.5],[-45.9,-8],[-46.3,-9],[-46.2,-10.3],[-46.85,-10.4]]]
];
const wsdiTrendRings=[
[1,[[-65,4.6],[-61,5.2],[-60,3],[-59.5,1.5],[-59,1],[-59.5,0.2],[-61,0.1],[-60.6,1.2],[-62,1.8],[-64,2]]],
[2,[[-64,3.8],[-61,5.2],[-60,3],[-59.8,1.6],[-60.8,2],[-62.5,2],[-63.8,2.4]]],
[3,[[-62.7,3.8],[-61,4.8],[-60.2,3],[-60.1,2.3],[-60.8,2.8],[-62,3]]],
[4,[[-61,5],[-60.6,5],[-60.5,3.8],[-60.9,3.8]]],
[1,[[-63.7,1.3],[-62.7,2],[-62,1],[-61.5,0.1],[-62.7,-0.2],[-63.5,0.5]]],
[1,[[-60.5,-0.5],[-59.5,0.8],[-57.5,1.4],[-56,1.8],[-56,1.2],[-57.5,-0.6],[-59.5,-0.8]]],
[2,[[-60.3,-0.1],[-59,1],[-57,1.7],[-57.8,0.5],[-59,-0.1]]],
[3,[[-60,0.1],[-58.8,1],[-57.3,1.6],[-58.4,0.4],[-59.3,0]]],
[4,[[-58.6,0.9],[-57.6,1.4],[-58.2,0.6]]],
[1,[[-57,1.8],[-55,2.3],[-53.5,2],[-52,0.5],[-50.8,0],[-50.5,-1],[-52,-2.5],[-53,-2],[-53.6,-0.5],[-54.8,-0.3],[-55.5,1],[-57,0]]],
[2,[[-55.6,1.8],[-54.6,1.8],[-53.7,-0.2],[-53.3,-0.8],[-54,-0.9],[-54.8,0]]],
[1,[[-53,2.2],[-52,2.5],[-51.5,4.4],[-51,3.3],[-52,2],[-51.4,0.5],[-50.5,0.2],[-50,0.1],[-51.5,-1.5],[-52,-1]]],
[1,[[-62,-1],[-60.5,-0.3],[-59.6,-0.6],[-59,-1.4],[-60,-2.5],[-59.5,-4],[-60,-4.5],[-61,-2.5],[-62,-2.5]]],
[2,[[-61.2,-0.9],[-59.8,-0.6],[-60,-1.8],[-61,-2]]],
[1,[[-56,-2.6],[-55,-2.5],[-53.8,-3.2],[-53,-5],[-52.5,-7],[-52.5,-8.2],[-53.7,-8],[-54.5,-6.3],[-56.5,-5.8],[-55,-5],[-55,-4.3],[-55.8,-3.8]]],
[2,[[-55.8,-2.9],[-55.2,-2.9],[-54.6,-4.3],[-53.3,-5],[-53.5,-6.3],[-53.8,-7.7],[-54.4,-7.2],[-54.2,-6],[-55.3,-5.2],[-55.3,-4]]],
[1,[[-53,-9.5],[-51.5,-8.6],[-50,-9.2],[-48.5,-8.5],[-47.5,-7.5],[-46.5,-6],[-44,-5.3],[-44,-6.9],[-46,-8],[-46,-11],[-47.5,-11],[-48.8,-11.6],[-50,-10.5],[-53,-10.8]]],
[2,[[-49.5,-9.2],[-48,-9],[-47.2,-10.3],[-48,-11],[-49.3,-10.5]]],
[3,[[-49,-9.7],[-47.8,-9.4],[-47.6,-10.1],[-48.6,-10.3]]],
[2,[[-46.5,-6.5],[-44.6,-6.3],[-45.2,-7.5],[-46,-7.6],[-47,-7.2]]],
[2,[[-46.2,-8.7],[-45.8,-8.6],[-46.2,-10.3],[-46.4,-10]]],
[1,[[-56.3,-13],[-55.5,-13],[-55,-15],[-53.5,-11.8],[-52,-11.3],[-50.8,-11.5],[-50.6,-13.5],[-51.5,-15.5],[-53,-17.8],[-55,-17.8],[-57,-17.3],[-56.4,-16],[-56.5,-14.7],[-57,-14]]],
[0,[[-55,-12.8],[-53.7,-12.5],[-53.7,-14],[-54,-15],[-55.5,-14.5]]],
[0,[[-52.8,-12],[-51.5,-11.8],[-51.2,-14.5],[-52.5,-14.3]]],
[2,[[-53.5,-11.8],[-52,-11.5],[-52.5,-13.5],[-53,-14.2],[-53.8,-13]]],
[2,[[-52.8,-14.6],[-51,-14.5],[-51.3,-15.8],[-52.5,-15.8]]],
[3,[[-52.5,-14.7],[-51.3,-14.8],[-51.6,-15.4],[-52.4,-15.4]]],
[2,[[-55,-15.3],[-53.6,-15.4],[-52.9,-17],[-54.5,-17.5],[-55.6,-17]]],
[3,[[-54.5,-15.6],[-54,-15.8],[-53.2,-16.7],[-54,-16.9],[-54.5,-16.4]]],
[1,[[-67.2,-7],[-66.7,-7.3],[-66.6,-8.8],[-67,-8.6]]],
[1,[[-62,-11.6],[-61.2,-11.4],[-61.8,-12.8],[-62.2,-12.5]]],
[1,[[-58.5,-9],[-57,-9.3],[-56.8,-10],[-58,-9.9]]],
[1,[[-49.5,-1.1],[-47.5,-1],[-47.2,-2.5],[-48.3,-3.6],[-48.8,-3.2]]],
[2,[[-48.6,-1.2],[-47.6,-1.2],[-47.5,-2.1],[-48.5,-1.8]]]
];
const su35Stipple=[
[[-52.8,2.35],[-51.5,3.45],[-51,2.35],[-50.3,1.4],[-50.4,0.1],[-49.25,-0.8],[-48.5,-1.35],[-48.5,-2.1],[-50.5,-2.65],[-51.5,-2.3],[-51,-1],[-51.8,-1.75],[-54.3,-1.75],[-53.8,0.1],[-54.8,1.75]],
[[-46.5,-1.55],[-44.7,-2.3],[-44.4,-3.4],[-45.4,-3],[-46.5,-2.1]],
[[-59,-5.4],[-56.1,-5.8],[-56.1,-7.5],[-57.6,-7.8],[-59.3,-7.8]],
[[-65.1,-8.2],[-63.2,-8.4],[-63.3,-9.9],[-64.9,-9.9]],
[[-59.9,-12.6],[-58.9,-12.6],[-58.9,-13.4],[-59.3,-14.3],[-60.4,-14.3],[-60.4,-13.4]],
[[-56.2,-15.7],[-55.4,-15.7],[-55.4,-16.6],[-56.2,-16.6]],
[[-64.4,-10.8],[-63.6,-10.8],[-63.6,-11.3],[-64.4,-11.3]],
[[-56.4,0],[-55.5,0],[-55.5,-1.2],[-56.4,-1.2]]
];
const wsdiStipple=[
[[-52.3,2.05],[-51.3,2.4],[-50.3,1.5],[-50.8,0.3],[-52.3,0.1]],
[[-46.5,-1.2],[-44.4,-2.75],[-44.4,-3.9],[-46.5,-5],[-47.2,-5.1],[-47.4,-3.5]],
[[-59.4,-5.1],[-57.6,-5.45],[-56.1,-6.2],[-56.1,-7.55],[-58.1,-8.3],[-60.2,-7.75],[-60.9,-7],[-59.6,-6.2]],
[[-50.8,-3.7],[-49,-3.9],[-48.75,-5.45],[-50,-7.55],[-51.3,-7],[-50.8,-5.45]],
[[-65.75,-9.1],[-63.5,-7.75],[-61.7,-8.9],[-61.7,-11.2],[-63,-12.8],[-65.25,-11.8]],
[[-57.6,-9.9],[-53.8,-9.9],[-53.8,-11.2],[-56.4,-11.6],[-57.6,-11.6]],
[[-60.2,-11.2],[-57.9,-10.8],[-56.4,-11.8],[-57.1,-13.5],[-57.1,-17],[-58.6,-16.8],[-60.2,-16.4],[-60.7,-14.5],[-61.7,-13.2]],
[[-56.1,-15.1],[-55.1,-15.1],[-55.3,-16.6],[-56.1,-16.6]],
[[-50.8,-11.4],[-50,-11.4],[-50,-12.6],[-50.8,-12.6]],
[[-47.2,-11.4],[-46.5,-11.6],[-47,-12.6]]
];

const serif='"Liberation Serif"';
const LON=[-74,-43.7], LAT=[-20.1,5.2];
function insideRing(p,r){let c=false;for(let i=0,j=r.length-1;i<r.length;j=i++){if((r[i][1]>p[1])!==(r[j][1]>p[1])&&p[0]<(r[j][0]-r[i][0])*(p[1]-r[i][1])/(r[j][1]-r[i][1])+r[i][0])c=!c;}return c;}
function stippleDots(rings){const out=[];let row=0;for(let la=5;la>-19;la-=0.32,row++){for(let lo=-74+(row%2)*0.19;lo<-44;lo+=0.38){if(rings.some(r=>insideRing([lo,la],r)))out.push([lo,la]);}}return out;}

const grids=[],xAxes=[],yAxes=[],series=[],legends=[];
function mapPanel(box,baseColor,colors,rings,stipple){
 const g=grids.length;grids.push(box);
 xAxes.push({gridIndex:g,type:'value',min:LON[0],max:LON[1],axisLine:{show:false},axisTick:{show:false},splitLine:{show:false},
  axisLabel:{customValues:lonTicks,formatter:v=>(-v)+'°W',fontFamily:serif,fontSize:48,color:'#222',margin:4,padding:[0,6,0,0]}});
 yAxes.push({gridIndex:g,type:'value',min:LAT[0],max:LAT[1],axisLine:{show:false},axisTick:{show:false},splitLine:{show:false},
  axisLabel:{customValues:latTicks,formatter:v=>v>0?v+'°N':(v===0?'0°':(-v)+'°S'),fontFamily:serif,fontSize:48,color:'#222',margin:7,padding:[24,0,0,0]}});
 const base={xAxisIndex:g,yAxisIndex:g,silent:true,animation:false};
 const rect=[[LON[0],LAT[1]],[LON[0],LAT[0]],[LON[1],LAT[0]],[LON[1],LAT[1]]];
 series.push({...base,type:'custom',z:2,clip:true,data:[[LON[0],LAT[0]]],renderItem:(p,api)=>({type:'polygon',shape:{points:rect.map(c=>api.coord(c))},style:{fill:baseColor}})});
 series.push({...base,type:'custom',z:2,clip:true,data:rings.map(r=>[r[1][0][0],r[1][0][1]]),
  renderItem:(p,api)=>{const r=rings[p.dataIndex];return{type:'polygon',shape:{points:r[1].map(c=>api.coord(c)),smooth:0.3},style:{fill:colors[r[0]]}};}});
 if(stipple)series.push({...base,type:'scatter',z:3,symbol:'circle',symbolSize:3.8,itemStyle:{color:'#222'},data:stippleDots(stipple)});
 series.push({...base,type:'custom',z:4,clip:true,data:[[LON[0],LAT[0]]],renderItem:(p,api)=>{
   const pts=[...rect,rect[0],...outline,outline[0],rect[0]];
   return{type:'polygon',shape:{points:pts.map(c=>api.coord(c))},style:{fill:'#cbcbcb'}};}});
 const lineSet=(lines,color,width)=>series.push({...base,type:'custom',z:5,clip:true,data:lines.map(l=>[l[0][0],l[0][1]]),
   renderItem:(p,api)=>({type:'polyline',shape:{points:lines[p.dataIndex].map(c=>api.coord(c))},style:{stroke:color,fill:null,lineWidth:width,lineJoin:'round'}})});
 lineSet(borderLines,'#6a6a6a',2);
 lineSet(stateLines,'#6a6a50',2);
 lineSet([[...outline,outline[0]]],'#000000',6);
 lineSet([[...rect,rect[0]]],'#8a8a8a',2.5);
}
function colorBar(box,colors,ticks,tip){
 const g=grids.length;grids.push(box);const n=ticks.length;
 xAxes.push({gridIndex:g,type:'value',min:0,max:1,show:false});
 yAxes.push({gridIndex:g,type:'value',position:'right',min:-tip,max:n-1+tip,axisLine:{show:false},axisTick:{show:false},splitLine:{show:false},
  axisLabel:{customValues:ticks.map((t,i)=>i),formatter:v=>ticks[v],fontFamily:serif,fontSize:44,color:'#222',margin:6,padding:[18,0,0,0]}});
 const shapeOf=i=>{if(i===0)return[[0,0],[1,0],[0.5,-tip]];if(i===colors.length-1)return[[0,n-1],[1,n-1],[0.5,n-1+tip]];return[[0,i-1],[1,i-1],[1,i],[0,i]];};
 series.push({type:'custom',xAxisIndex:g,yAxisIndex:g,silent:true,animation:false,z:2,clip:false,data:colors.map((c,i)=>[0.5,i]),
  renderItem:(p,api)=>({type:'polygon',shape:{points:shapeOf(p.dataIndex).map(c=>api.coord(c))},style:{fill:colors[p.dataIndex]}})});
 const frame=[[0.5,-tip],[1,0],[1,n-1],[0.5,n-1+tip],[0,n-1],[0,0],[0.5,-tip]];
 series.push({type:'custom',xAxisIndex:g,yAxisIndex:g,silent:true,animation:false,z:3,clip:false,data:[[0.5,0]],
  renderItem:(p,api)=>({type:'polyline',shape:{points:frame.map(c=>api.coord(c))},style:{stroke:'#777',fill:null,lineWidth:1.2}})});
}
const PINK='#fb5288',GREEN='#00a03c',BLACK='#000000';
function linePanel(box,yMin,yMax,yTicks,nw,ne,so,nameGap,leg){
 const g=grids.length;grids.push({...box,show:true,borderColor:'#808080',borderWidth:2.5,backgroundColor:'transparent'});
 xAxes.push({gridIndex:g,type:'value',min:1958.1,max:2021.9,splitLine:{show:false},axisLine:{show:false},
  axisTick:{customValues:[1960,1970,1980,1990,2000,2010,2020],length:8,lineStyle:{color:'#808080',width:2}},
  axisLabel:{customValues:[1960,1970,1980,1990,2000,2010,2020],formatter:v=>String(v),fontFamily:serif,fontSize:36,color:'#222',margin:12}});
 yAxes.push({gridIndex:g,type:'value',min:yMin,max:yMax,splitLine:{show:false},axisLine:{show:false},
  name:'days',nameLocation:'middle',nameGap:nameGap,nameRotate:90,nameTextStyle:{fontFamily:serif,fontWeight:'bold',fontSize:36,color:'#111'},
  axisTick:{customValues:yTicks,length:8,lineStyle:{color:'#808080',width:2}},
  axisLabel:{customValues:yTicks,fontFamily:serif,fontSize:36,color:'#222',margin:10,padding:[12,0,0,0]}});
 [['NORTHWEST',nw,PINK],['NORTHEAST',ne,GREEN],['SOUTH',so,BLACK]].forEach(s=>series.push({
  name:s[0],type:'line',xAxisIndex:g,yAxisIndex:g,data:years.map((y,i)=>[y,s[1][i]]),symbol:'circle',symbolSize:11.5,showSymbol:true,
  lineStyle:{color:s[2],width:3},itemStyle:{color:s[2]},animation:false,silent:true,z:4}));
 leg.forEach(l=>legends.push({data:[l.name],left:l.left,top:l.top,orient:'horizontal',selectedMode:false,padding:[10,10,10,14],
  itemWidth:65,itemHeight:16,borderColor:'#e2e2e2',borderWidth:2,borderRadius:7,backgroundColor:'#fff',z:6,
  textStyle:{fontFamily:serif,fontSize:32,color:'#222',padding:[0,0,0,18]}}));
}
mapPanel({left:116,top:205,width:837,height:697},climColors[1],climColors,su35ClimRings,null);
mapPanel({left:1199,top:205,width:836,height:697},su35TrendColors[9],su35TrendColors.slice(7),su35TrendRings,su35Stipple);
mapPanel({left:116,top:1028,width:837,height:697},climColors[1],climColors,wsdiClimRings,null);
mapPanel({left:1199,top:1027,width:836,height:697},'#ffffff',wsdiTrendColors.slice(6),wsdiTrendRings,wsdiStipple);
colorBar({left:979,top:205,width:17,height:697},climColors,climTicks,0.46);
colorBar({left:2062,top:205,width:17,height:697},su35TrendColors,su35TrendTicks,0.6);
colorBar({left:979,top:1028,width:17,height:697},climColors,climTicks,0.46);
colorBar({left:2062,top:1027,width:17,height:697},wsdiTrendColors,wsdiTrendTicks,0.5);
linePanel({left:2279,top:179,width:990,height:706},-3.7,100,[0,20,40,60,80,100],su35NW,su35NE,su35South,56,
 [{name:'NORTHWEST',left:2295,top:194},{name:'NORTHEAST',left:2653,top:194},{name:'SOUTH',left:3032,top:194}]);
linePanel({left:2260,top:1011,width:1009,height:708},-2.9,70,[0,10,20,30,40,50,60,70],wsdiNW,wsdiNE,wsdiSouth,52,
 [{name:'NORTHWEST',left:2276,top:1028},{name:'NORTHEAST',left:2645,top:1028},{name:'SOUTH',left:3033,top:1028}]);

const txt=(t,x,y,size,weight,align)=>({type:'text',x,y,z:10,style:{text:t,fontFamily:serif,fontSize:size,fontWeight:weight||'normal',fill:'#111',textAlign:align||'left',textVerticalAlign:'middle'}});
const graphics=[
 txt('Climatology',16,64,90,'bold'),txt('Observed Trends',1098,64,90,'bold'),txt('Regional Trends',2178,64,91,'bold'),
 txt('(a) SU35',116,172,60),txt('(b) SU35',1199,172,60),txt('(c) SU35',2280,155,50),
 txt('(d) WSDI',116,996,60),txt('(e) WSDI',1199,996,60),txt('(f) WSDI',2260,987,50),
 txt('days',987,188,39,'normal','center'),txt('days/dec',2070,188,39,'normal','center'),
 txt('days',987,1010,39,'normal','center'),txt('days/dec',2070,1008,39,'normal','center')
];
const chart=echarts.init(document.getElementById('c'),null,{renderer:'canvas',width:3290,height:1796});
chart.setOption({backgroundColor:'#ffffff',animation:false,grid:grids,xAxis:xAxes,yAxis:yAxes,series,legend:legends,graphic:{elements:graphics}});
</script></body></html>
